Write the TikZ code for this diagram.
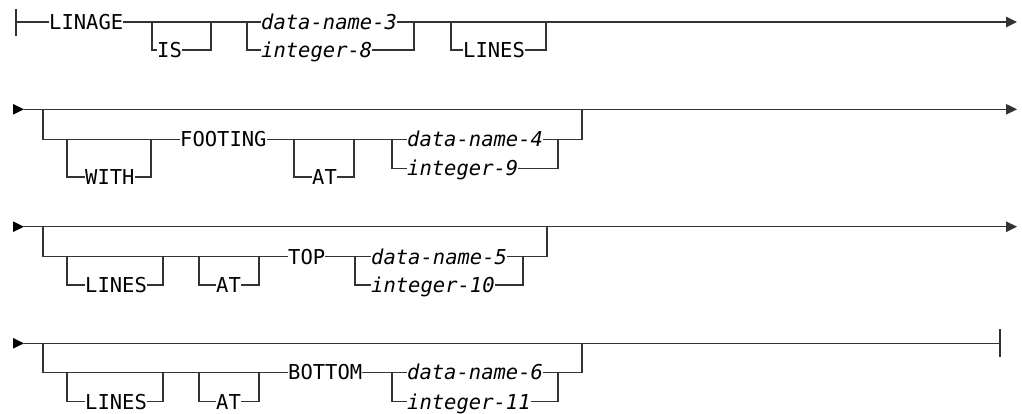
\documentclass[tikz,border=0pt]{standalone}
\usepackage{fontspec}
\setmonofont{DejaVu Sans Mono}[ItalicFont={DejaVu Sans Mono Oblique}]
\usetikzlibrary{arrows.meta,positioning,calc}
\tikzset{
  rail/.style={line width=1.2pt,draw=black!80},
  kw/.style={font=\ttfamily\fontsize{20.5}{21}\selectfont,inner sep=0pt,anchor=west,
    text height=14.9pt,text depth=0pt},
  var/.style={kw,font=\ttfamily\itshape\fontsize{20.5}{21}\selectfont},
}

\begin{document}
\begin{tikzpicture}[x=1pt,y=-1pt,>={Triangle[length=11pt,width=10.5pt]}]
\useasboundingbox (0,0) rectangle (1022,413);
% row ends and branch points
\foreach \n/\x/\y in {s1/16/22,e1/1017/22,b1a/152/22,b1b/211/22,b1c/247/22,b1d/414/22,b1e/451/22,b1f/546/22,
  s2/24/109.3,e2/1017/109.3,b2a/43/109.3,b2b/67/139.3,b2c/151/139.3,b2d/294/139.3,b2e/354/139.3,b2f/392/139.3,b2g/558/139.3,b2h/582/109.3,
  s3/24/226.7,e3/1017/226.7,b3a/43/226.7,b3b/67/256.7,b3c/163/256.7,b3d/199/256.7,b3e/259/256.7,b3f/355/256.7,b3g/523/256.7,b3h/547/226.7,
  s4/24/343.3,e4/1000/343.3,b4a/43/343.3,b4b/67/372.3,b4c/163/372.3,b4d/199/372.3,b4e/259/372.3,b4f/392/372.3,b4g/558/372.3,b4h/582/343.3}
  \coordinate (\n) at (\x,\y);

% row 1
\node[kw] (linage) at (49,22) {LINAGE};
\node[kw] (is) at (157,50) {IS};
\node[var] (dn3) at (261,22) {data-name-3};
\node[var] (int8) at (261,50) {integer-8};
\node[kw] (lines1) at (463,50) {LINES};
\draw[rail] (s1) ++(0,-13.5) -- ++(0,27);
\draw[rail] (s1) -- (linage);
\draw[rail] (linage) -- (dn3);
\draw[rail,->] (dn3) -- (e1);
\draw[rail] (b1a) |- (is);\draw[rail] (is) -| (b1b);
\draw[rail] (b1c) |- (int8);\draw[rail] (int8) -| (b1d);
\draw[rail] (b1e) |- (lines1);\draw[rail] (lines1) -| (b1f);

% row 2
\node[kw] (with) at (85,177) {WITH};
\node[kw] (footing) at (180,139.3) {FOOTING};
\node[kw] (at2) at (312,177) {AT};
\node[var] (dn4) at (407,139.3) {data-name-4};
\node[var] (int9) at (407,168.3) {integer-9};
\draw[rail,->] (s2) -- (e2);
\draw[rail] (b2a) |- (footing);
\draw[rail] (b2b) |- (with);\draw[rail] (with) -| (b2c);
\draw[rail] (footing) -- (dn4);
\draw[rail] (b2d) |- (at2);\draw[rail] (at2) -| (b2e);
\draw[rail] (b2f) |- (int9);\draw[rail] (int9) -| (b2g);
\draw[rail] (dn4) -| (b2h);

% row 3
\node[kw] (lines3) at (85,285) {LINES};
\node[kw] (at3) at (216,285) {AT};
\node[kw] (top) at (288,256.7) {TOP};
\node[var] (dn5) at (371,256.7) {data-name-5};
\node[var] (int10) at (371,285) {integer-10};
\draw[rail,->] (s3) -- (e3);
\draw[rail] (b3a) |- (top);
\draw[rail] (b3b) |- (lines3);\draw[rail] (lines3) -| (b3c);
\draw[rail] (b3d) |- (at3);\draw[rail] (at3) -| (b3e);
\draw[rail] (top) -- (dn5);
\draw[rail] (b3f) |- (int10);\draw[rail] (int10) -| (b3g);
\draw[rail] (dn5) -| (b3h);

% row 4
\node[kw] (lines4) at (85,401.7) {LINES};
\node[kw] (at4) at (216,401.7) {AT};
\node[kw] (bottom) at (288,372.3) {BOTTOM};
\node[var] (dn6) at (407,372.3) {data-name-6};
\node[var] (int11) at (407,401.7) {integer-11};
\draw[rail] (s4) -- (e4);
\draw[rail] (e4) ++(0,-14) -- ++(0,28);
\draw[rail] (b4a) |- (bottom);
\draw[rail] (b4b) |- (lines4);\draw[rail] (lines4) -| (b4c);
\draw[rail] (b4d) |- (at4);\draw[rail] (at4) -| (b4e);
\draw[rail] (bottom) -- (dn6);
\draw[rail] (b4f) |- (int11);\draw[rail] (int11) -| (b4g);
\draw[rail] (dn6) -| (b4h);

% entry arrows
\foreach \r in {2,3,4}
  \fill[black] (s\r) -- ++(-11,-5.3) -- ++(0,10.6) -- cycle;
\end{tikzpicture}
\end{document}
